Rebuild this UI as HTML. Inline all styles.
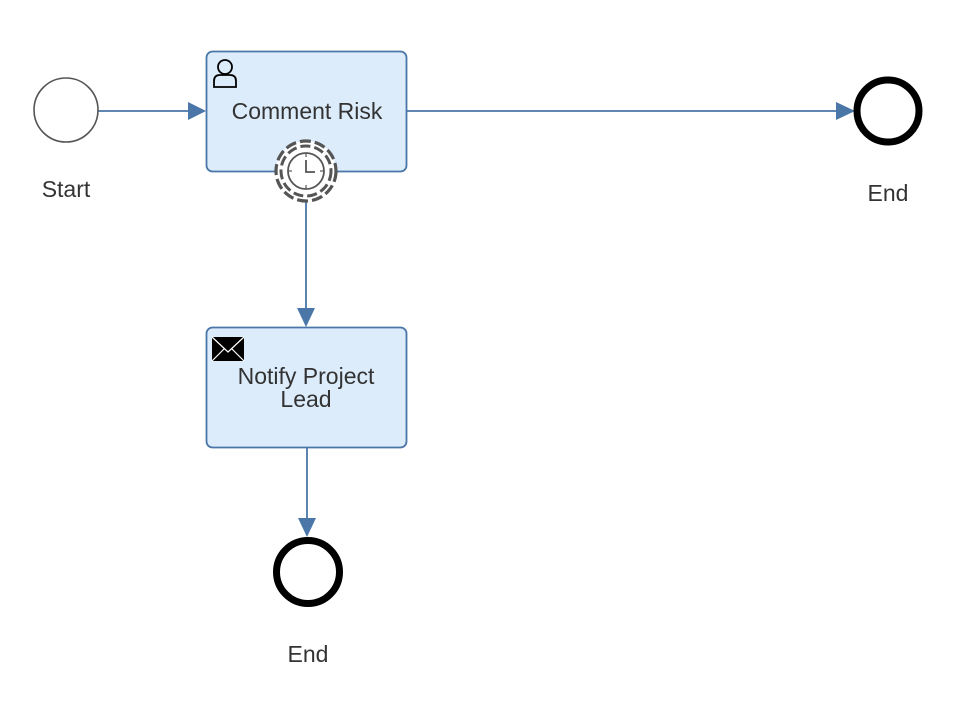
<!DOCTYPE html>
<html><head><meta charset="utf-8"><style>
html,body{margin:0;padding:0;background:#fff;}
svg{display:block;font-family:"Liberation Sans",Arial,sans-serif;}
</style></head><body>
<svg width="966" height="704" viewBox="0 0 966 704" xmlns="http://www.w3.org/2000/svg">
<g stroke="#4a76a8" stroke-width="1.8" fill="#4a76a8">
<line x1="98" y1="111" x2="190" y2="111"/>
<path d="M188,102 L206,111 L188,120 Z" stroke="none"/>
<line x1="406" y1="111" x2="838" y2="111"/>
<path d="M836,102 L855,111 L836,120 Z" stroke="none"/>
<line x1="306" y1="201" x2="306" y2="310"/>
<path d="M297,308 L306,327 L315,308 Z" stroke="none"/>
<line x1="307" y1="447" x2="307" y2="520"/>
<path d="M298,518 L307,537 L316,518 Z" stroke="none"/>
</g>
<circle cx="66" cy="110" r="32" fill="#fff" stroke="#555" stroke-width="1.6"/>
<text x="66" y="197" font-size="23" text-anchor="middle" fill="#333">Start</text>
<rect x="206.5" y="51.5" width="200" height="120" rx="6" fill="#dcecfb" stroke="#4a76a8" stroke-width="1.8"/>
<g fill="none" stroke="#000" stroke-width="1.8">
<circle cx="225" cy="67" r="7"/>
<path d="M214,87 L214,81 Q214,75 220,75 L230,75 Q236,75 236,81 L236,87 Z"/>
</g>
<text x="307" y="119" font-size="23" text-anchor="middle" fill="#333">Comment Risk</text>
<circle cx="306" cy="171" r="30" fill="#fff" stroke="#555" stroke-width="3.2" stroke-dasharray="11,4"/>
<circle cx="306" cy="171" r="25" fill="none" stroke="#555" stroke-width="3" stroke-dasharray="10,4"/>
<circle cx="306" cy="171" r="18" fill="#fff" stroke="#555" stroke-width="1.8"/>
<g stroke="#555" stroke-width="1.2">
<line x1="306" y1="154" x2="306" y2="157"/><line x1="306" y1="185" x2="306" y2="188"/>
<line x1="289" y1="171" x2="292" y2="171"/><line x1="320" y1="171" x2="323" y2="171"/>
</g>
<path d="M306,160 L306,172 L315,172" fill="none" stroke="#555" stroke-width="1.8"/>
<rect x="206.5" y="327.5" width="200" height="120" rx="6" fill="#dcecfb" stroke="#4a76a8" stroke-width="1.8"/>
<rect x="212" y="337" width="32" height="24" fill="#000"/>
<path d="M212,337 L228,352 L244,337 M212,361 L224,349 M244,361 L232,349" fill="none" stroke="#fff" stroke-width="1.2"/>
<text x="306" y="384" font-size="23" text-anchor="middle" fill="#333">Notify Project</text>
<text x="306" y="407" font-size="23" text-anchor="middle" fill="#333">Lead</text>
<circle cx="888" cy="111" r="31" fill="#fff" stroke="#000" stroke-width="7"/>
<text x="888" y="201" font-size="23" text-anchor="middle" fill="#333">End</text>
<circle cx="308" cy="572" r="31.5" fill="#fff" stroke="#000" stroke-width="7"/>
<text x="308" y="662" font-size="23" text-anchor="middle" fill="#333">End</text>
</svg>
</body></html>
